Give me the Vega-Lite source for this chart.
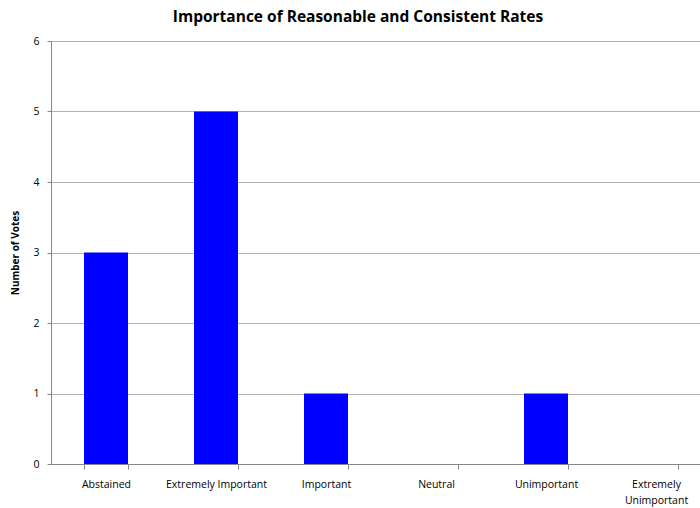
{
  "$schema": "https://vega.github.io/schema/vega-lite/v6.json",
  "autosize": "none",
  "width": 660,
  "height": 423,
  "padding": {"left": 51, "top": 41, "right": 0, "bottom": 44},
  "background": "white",
  "title": {
    "text": "Importance of Reasonable and Consistent Rates",
    "font": "Open Sans",
    "fontSize": 15.5,
    "fontWeight": "bold",
    "color": "#000000",
    "anchor": "middle",
    "dx": -23,
    "offset": 11
  },
  "data": {
    "values": [
      {"category": "Abstained", "votes": 3},
      {"category": "Extremely Important", "votes": 5},
      {"category": "Important", "votes": 1},
      {"category": "Neutral", "votes": 0},
      {"category": "Unimportant", "votes": 1},
      {"category": "Extremely Unimportant", "votes": 0}
    ]
  },
  "mark": {"type": "bar", "color": "#0000FF"},
  "encoding": {
    "x": {
      "field": "category",
      "type": "nominal",
      "sort": null,
      "scale": {"paddingInner": 0.6, "paddingOuter": 0.3},
      "axis": {
        "title": null,
        "labelAngle": 0,
        "labelFont": "Open Sans",
        "labelFontSize": 10.5,
        "labelColor": "#000000",
        "labelPadding": 10,
        "labelLineHeight": 16,
        "labelExpr": "datum.value == 'Extremely Unimportant' ? ['Extremely', 'Unimportant'] : datum.value",
        "tickBand": "extent",
        "tickColor": "#868686",
        "tickSize": 5,
        "domainColor": "#868686",
        "grid": false
      }
    },
    "y": {
      "field": "votes",
      "type": "quantitative",
      "scale": {"domain": [0, 6], "nice": false},
      "axis": {
        "title": "Number of Votes",
        "titleFont": "Open Sans",
        "titleFontSize": 10,
        "titleFontWeight": "bold",
        "titleColor": "#000000",
        "titlePadding": 12,
        "values": [0, 1, 2, 3, 4, 5, 6],
        "labelFont": "Open Sans",
        "labelFontSize": 10.5,
        "labelColor": "#000000",
        "labelPadding": 8,
        "tickColor": "#868686",
        "tickSize": 4,
        "domainColor": "#868686",
        "grid": true,
        "gridColor": "#b3b3b3"
      }
    }
  },
  "config": {"view": {"stroke": null}}
}
